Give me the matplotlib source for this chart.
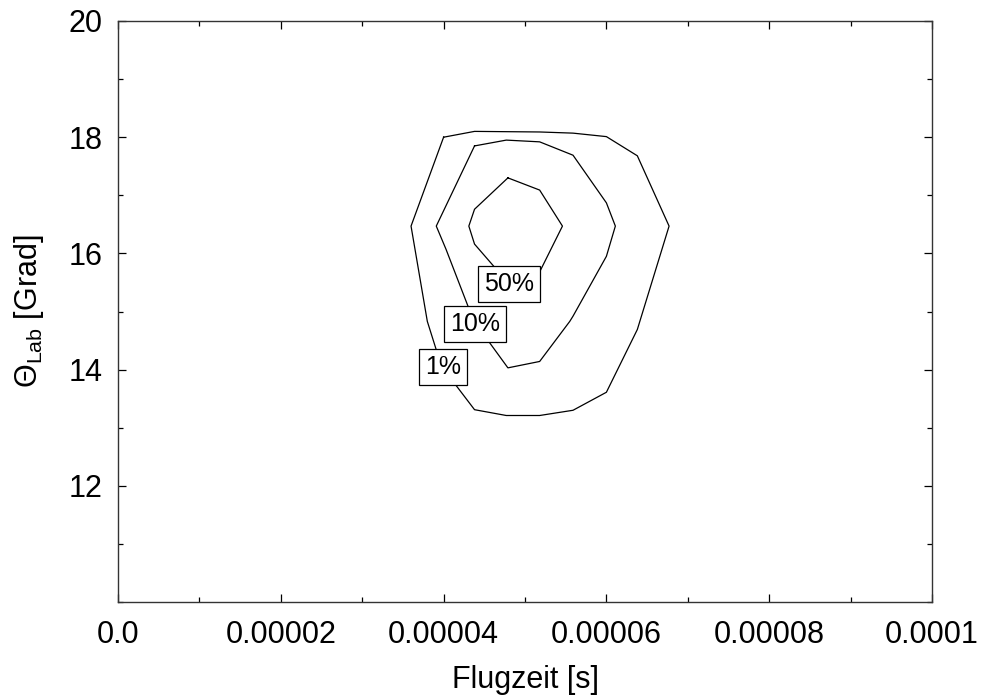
import matplotlib
matplotlib.use('Agg')
import matplotlib.pyplot as plt
from matplotlib.ticker import MultipleLocator

plt.rcParams['font.family'] = ['Liberation Sans', 'DejaVu Sans']
plt.rcParams['mathtext.fontset'] = 'custom'
plt.rcParams['mathtext.rm'] = 'Liberation Sans'
plt.rcParams['mathtext.it'] = 'Liberation Sans:italic'

# contour lines (flight time [s], theta [deg])
c1_x = [4.0e-5, 4.38e-5, 5.18e-5, 5.59e-5, 6.0e-5, 6.38e-5, 6.77e-5, 6.38e-5, 6.0e-5,
        5.59e-5, 5.18e-5, 4.77e-5, 4.38e-5, 4.13e-5, 3.99e-5, 3.91e-5, 3.80e-5, 3.60e-5, 4.0e-5]
c1_y = [18.0, 18.10, 18.09, 18.07, 18.01, 17.68, 16.47, 14.69, 13.61,
        13.30, 13.21, 13.21, 13.31, 13.77, 14.05, 14.34, 14.83, 16.47, 18.0]

c10_x = [4.38e-5, 4.77e-5, 5.18e-5, 5.59e-5, 6.0e-5, 6.11e-5, 6.0e-5, 5.59e-5, 5.55e-5,
         5.18e-5, 4.79e-5, 4.52e-5, 4.39e-5, 4.30e-5, 4.03e-5, 3.91e-5, 4.38e-5]
c10_y = [17.85, 17.95, 17.92, 17.69, 16.87, 16.47, 15.95, 14.92, 14.83,
         14.14, 14.03, 14.55, 14.79, 15.09, 16.07, 16.47, 17.85]

c50_x = [4.79e-5, 5.18e-5, 5.46e-5, 5.19e-5, 4.79e-5, 4.64e-5, 4.38e-5, 4.31e-5, 4.38e-5, 4.79e-5]
c50_y = [17.30, 17.09, 16.47, 15.71, 15.45, 15.74, 16.16, 16.47, 16.76, 17.30]

level_labels = ['1%', '10%', '50%']
label_x = [3.99e-5, 4.39e-5, 4.80e-5]
label_y = [14.05, 14.79, 15.47]

x_ticks = [0, 2e-5, 4e-5, 6e-5, 8e-5, 1e-4]
x_ticklabels = ['0.0', '0.00002', '0.00004', '0.00006', '0.00008', '0.0001']
y_ticks = [12, 14, 16, 18, 20]

fig = plt.figure(figsize=(9.81, 7.0), dpi=100)
ax = fig.add_axes([118 / 981, 1 - 602 / 700, (932 - 118) / 981, (602 - 21) / 700])

for xs, ys in [(c1_x, c1_y), (c10_x, c10_y), (c50_x, c50_y)]:
    ax.plot(xs, ys, color='black', lw=0.9, zorder=2)

for lab, lx, ly in zip(level_labels, label_x, label_y):
    ax.text(lx, ly, lab, fontsize=18, ha='center', va='center', zorder=3,
            bbox=dict(boxstyle='square,pad=0.24', fc='white', ec='black', lw=0.9))

ax.set_xlim(0, 1e-4)
ax.set_ylim(10, 20)
ax.set_xticks(x_ticks)
ax.set_xticklabels(x_ticklabels)
ax.set_yticks(y_ticks)
ax.xaxis.set_minor_locator(MultipleLocator(1e-5))
ax.yaxis.set_minor_locator(MultipleLocator(1))

ax.tick_params(which='both', direction='in', top=True, right=True, labelsize=22, width=0.9)
ax.tick_params(which='major', length=6)
ax.tick_params(axis='x', which='major', pad=13)
ax.tick_params(axis='y', which='major', pad=11)
ax.tick_params(which='minor', length=3.5)
for s in ax.spines.values():
    s.set_linewidth(1.0)
    s.set_color('#333333')

ax.set_xlabel('Flugzeit [s]', fontsize=22, labelpad=11)
ax.set_ylabel(r'$\Theta_{\mathrm{Lab}}$ [Grad]', fontsize=22, labelpad=16)

fig.savefig('out.png', dpi=100)
